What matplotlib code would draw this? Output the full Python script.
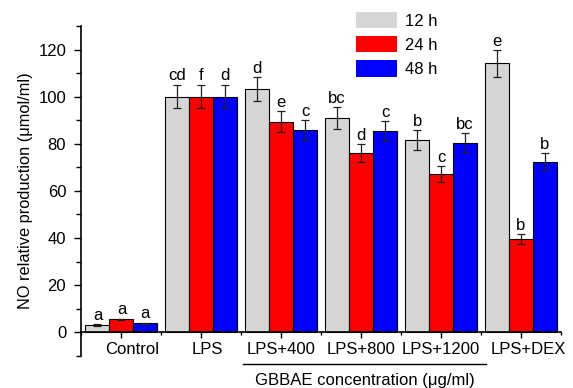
import matplotlib
matplotlib.use("Agg")
import matplotlib.pyplot as plt
import matplotlib.transforms as mtrans
import numpy as np
from matplotlib.ticker import MultipleLocator, FixedLocator

plt.rcParams['font.family'] = ['Liberation Sans', 'DejaVu Sans']

groups = ["Control", "LPS", "LPS+400", "LPS+800", "LPS+1200", "LPS+DEX"]
series_names = ["12 h", "24 h", "48 h"]
colors = ["#d6d6d6", "#ff0000", "#0000ff"]

vals_12h = [3.0, 100.0, 103.3, 90.9, 81.5, 114.1]
vals_24h = [5.4, 100.0, 89.3, 76.0, 67.1, 39.5]
vals_48h = [3.8, 100.0, 85.8, 85.5, 80.5, 72.3]

err_12h = [0.3, 5.0, 5.0, 4.5, 4.2, 5.6]
err_24h = [0.3, 5.0, 4.5, 3.8, 3.4, 2.0]
err_48h = [0.3, 5.0, 4.2, 4.2, 4.0, 3.6]

let_12h = ["a", "cd", "d", "bc", "b", "e"]
let_24h = ["a", "f", "e", "d", "c", "b"]
let_48h = ["a", "d", "c", "c", "bc", "b"]

values = [vals_12h, vals_24h, vals_48h]
errors = [err_12h, err_24h, err_48h]
letters = [let_12h, let_24h, let_48h]

fig = plt.figure(figsize=(5.73, 3.88), dpi=100)
ax = fig.add_axes([0.1422, 0.0832, 0.8368, 0.8498])

x = np.arange(len(groups))
w = 0.3
fs = 12
for i in range(3):
    pos = x + (i - 1) * w
    ax.bar(pos, values[i], width=w, color=colors[i], edgecolor='black',
           linewidth=0.8, label=series_names[i], zorder=2)
    ax.errorbar(pos, values[i], yerr=errors[i], fmt='none', ecolor='#222222',
                elinewidth=0.9, capsize=3, capthick=0.9, zorder=3)
    for xp, v, e, t in zip(pos, values[i], errors[i], letters[i]):
        ax.annotate(t, (xp, v + e), xytext=(0, 1.0), textcoords='offset points',
                    ha='center', va='bottom', fontsize=fs)

ax.set_xlim(-0.5, 5.5)
ax.set_ylim(-10, 130)
ax.spines['top'].set_visible(False)
ax.spines['right'].set_visible(False)
ax.spines['bottom'].set_position(('data', 0))
ax.spines['left'].set_linewidth(1.2)
ax.spines['bottom'].set_linewidth(1.2)

ax.yaxis.set_major_locator(FixedLocator([0, 20, 40, 60, 80, 100, 120]))
ax.yaxis.set_minor_locator(MultipleLocator(10))
ax.tick_params(axis='y', which='major', direction='out', length=5, width=1, labelsize=fs, pad=6)
ax.tick_params(axis='y', which='minor', direction='out', length=3.5, width=1)

ax.set_xticks(x)
ax.set_xticklabels(groups)
ax.xaxis.set_minor_locator(FixedLocator(np.arange(-0.5, 6.0, 1.0)))
ax.tick_params(axis='x', which='major', direction='out', length=4, width=1, labelsize=fs, pad=3)
ax.tick_params(axis='x', which='minor', direction='out', length=2.5, width=1)

# small horizontal shifts of some category labels (pixels) as in the original
shifts_px = [11, 6, 0, 0, 0, 7.5]
for lab, s in zip(ax.get_xticklabels(), shifts_px):
    if s:
        lab.set_transform(lab.get_transform() +
                          mtrans.ScaledTranslation(s / 100.0, 0, fig.dpi_scale_trans))

ax.set_ylabel("NO relative production (μmol/ml)", fontsize=11.8, labelpad=4)

ax.plot([1.52, 4.56], [-13.5, -13.5], color='black', linewidth=1, clip_on=False)
ax.text(3.04, -20.6, "GBBAE concentration (μg/ml)", ha='center', va='center',
        fontsize=fs, clip_on=False)

ax.legend(loc='upper left', bbox_to_anchor=(0.572, 1.043), frameon=False,
          fontsize=fs, handlelength=2.5, handleheight=1.12, labelspacing=0.45,
          handletextpad=0.45, borderpad=0, borderaxespad=0)
leg = ax.get_legend()
for p in leg.get_patches():
    p.set_edgecolor('none')

fig.savefig("out.png", dpi=100)
